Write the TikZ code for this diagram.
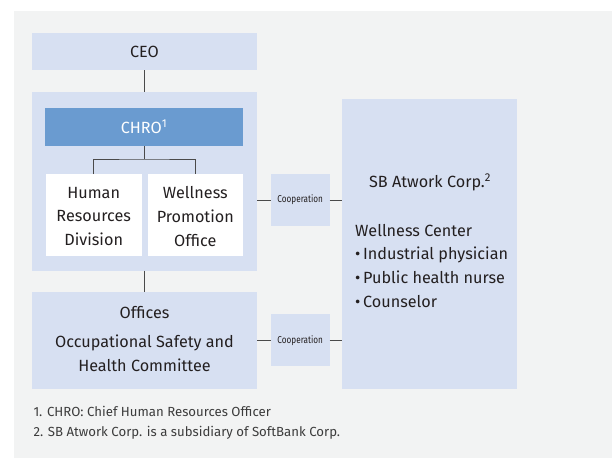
\documentclass[tikz,border=0pt]{standalone}
\usepackage{fontspec}
\setmainfont{Fira Sans}
\newfontfamily\condfont[FakeStretch=0.82]{Fira Sans}
\definecolor{bgc}{HTML}{F2F3F3}
\definecolor{boxc}{HTML}{D7E0F2}
\definecolor{chroc}{HTML}{6A9BD0}
\definecolor{txtc}{HTML}{231F20}
\definecolor{linec}{HTML}{4A4A4A}
\definecolor{fnc}{HTML}{3C3C3C}
\begin{document}
\begin{tikzpicture}[x=1pt,y=-1pt,
  lbox/.style={fill=boxc,draw=none,inner sep=0pt},
  wbox/.style={fill=white,draw=none,inner sep=0pt},
  conn/.style={draw=linec,line width=1pt},
  maintxt/.style={font=\fontsize{16.2}{23.6}\selectfont,text=txtc,align=center,inner sep=0pt},
  coop/.style={font=\condfont\fontsize{10}{11}\selectfont,text=txtc,inner sep=0pt},
  fn/.style={font=\fontsize{13.2}{14}\selectfont,text=fnc,anchor=west,inner sep=0pt}]
\useasboundingbox (0,0) rectangle (612,459);
\fill[bgc] (14,11) rectangle (612,458);
% boxes
\path[lbox] (32,33) rectangle (257,70);
\coordinate (ceoB) at (144.3,70);
\node[maintxt] (ceo) at (144.5,52) {CEO};
\path[lbox] (32,92) rectangle (257,270.7);
\coordinate (contT) at (144.3,92);
\coordinate (contB) at (144.3,270.7);
\coordinate (contR) at (257,200);
\fill[chroc] (45,108) rectangle (243,146);
\node[maintxt,text=white] (chro) at (144,127) {CHRO\textsuperscript{1}};
\coordinate (chroB) at (144.3,146);
\fill[white] (46,174) rectangle (141.7,255.7);
\fill[white] (147.7,174) rectangle (243.3,255.7);
\coordinate (hrT) at (93.7,174);
\coordinate (wpT) at (195.3,174);
\node[maintxt] (hr) at (93.7,216.5) {Human\\Resources\\Division};
\node[maintxt] (wp) at (195.3,216.5) {Wellness\\Promotion\\Office};
\path[lbox] (32,291.7) rectangle (257,388.7);
\coordinate (offT) at (144.3,291.7);
\coordinate (offR) at (257,340.3);
\node[maintxt] (off1) at (144.5,313) {Offices};
\node[maintxt] (off2) at (144.5,353.5) {Occupational Safety and\\Health Committee};
% cooperation boxes
\path[lbox] (270.7,174) rectangle (329.7,225.7);
\coordinate (c1L) at (270.7,200);
\coordinate (c1R) at (329.7,200);
\node[coop] (coop1) at (300.2,200) {Cooperation};
\path[lbox] (270.7,314) rectangle (329.7,365.7);
\coordinate (c2L) at (270.7,340.3);
\coordinate (c2R) at (329.7,340.3);
\node[coop] (coop2) at (300.2,340.3) {Cooperation};
% SB box
\path[lbox] (342.3,99) rectangle (517.3,388.7);
\coordinate (sb1) at (342.3,200);
\coordinate (sb2) at (342.3,340.3);
\node[maintxt] (sbt) at (430,182.5) {SB Atwork Corp.\textsuperscript{2}};
\node[maintxt,align=left,anchor=north west] (wc) at (355,224) {Wellness Center\\%
\textbullet\,Industrial physician\\%
\textbullet\,Public health nurse\\%
\textbullet\,Counselor};
% connectors
\draw[conn] (ceoB) -- (contT);
\draw[conn] (chroB) -- (144.3,159) coordinate (brk);
\draw[conn] (hrT) |- (brk) -| (wpT);
\draw[conn] (contB) -- (offT);
\draw[conn] (contR) -- (c1L);
\draw[conn] (c1R) -- (sb1);
\draw[conn] (offR) -- (c2L);
\draw[conn] (c2R) -- (sb2);
% footnotes
\node[fn] (fn1) at (33.3,411.5) {1. CHRO: Chief Human Resources Officer};
\node[fn] (fn2) at (33.3,432.5) {2. SB Atwork Corp. is a subsidiary of SoftBank Corp.};
\end{tikzpicture}
\end{document}
